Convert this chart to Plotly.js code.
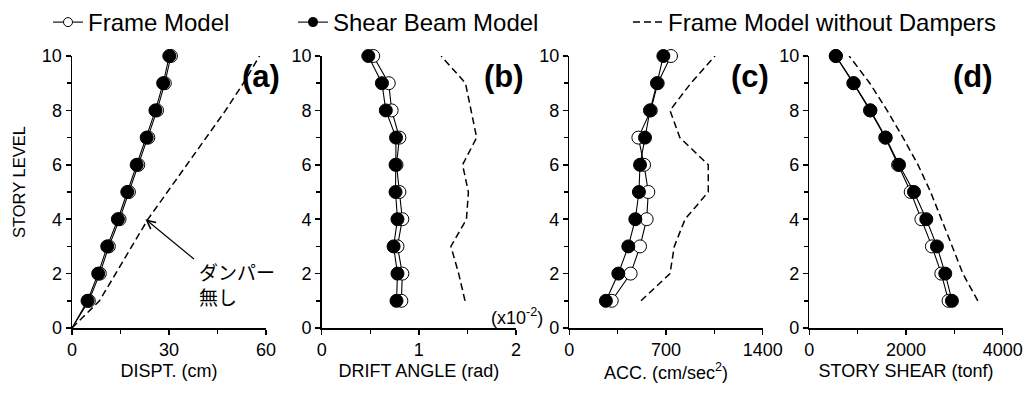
<!DOCTYPE html>
<html>
<head>
<meta charset="utf-8">
<script src="https://cdn.plot.ly/plotly-3.0.1.min.js"></script>
<style>html,body{margin:0;padding:0;background:#fff;}#chart{width:1027px;height:396px;}</style>
</head>
<body>
<div id="chart"></div>
<script>
// ---------- data ----------
const storyLevels = [1, 2, 3, 4, 5, 6, 7, 8, 9, 10];
const storyLevelsWithBase = [0, 1, 2, 3, 4, 5, 6, 7, 8, 9, 10];

// (a) displacement (cm), includes base level 0
const disptFrame = [0, 5.2, 8.6, 11.4, 14.7, 17.6, 20.5, 23.6, 26.3, 28.7, 30.6];
const disptShear = [0, 4.8, 8.1, 10.9, 14.2, 17.1, 20.0, 23.1, 25.8, 28.2, 30.1];
const disptNoDamper = [0, 8.5, 13.5, 18.5, 23.5, 29.5, 35.5, 41.5, 47.5, 53, 58];

// (b) drift angle (x10^-2 rad)
const driftFrame = [0.82, 0.83, 0.78, 0.83, 0.80, 0.77, 0.80, 0.72, 0.69, 0.53];
const driftShear = [0.77, 0.78, 0.74, 0.78, 0.76, 0.76, 0.765, 0.66, 0.62, 0.48];
const driftNoDamper = [1.475, 1.41, 1.33, 1.49, 1.51, 1.45, 1.595, 1.54, 1.48, 1.23];

// (c) acceleration (cm/sec^2)
const accFrame = [307, 444, 512, 560, 572, 541, 500, 590, 640, 736];
const accShear = [265, 355, 427, 478, 504, 512, 548, 584, 635, 681];
const accNoDamper = [519, 729, 760, 838, 1006, 1006, 800, 729, 880, 1055];

// (d) story shear (tonf)
const shearFrame = [2880, 2730, 2536, 2318, 2097, 1836, 1570, 1255, 910, 545];
const shearShear = [2950, 2812, 2640, 2420, 2165, 1856, 1581, 1265, 920, 551];
const shearNoDamper = [3485, 3176, 2956, 2729, 2509, 2248, 1938, 1608, 1251, 825];

const seriesNames = ['Frame Model', 'Shear Beam Model', 'Frame Model without Dampers'];
const panelLabels = ['(a)', '(b)', '(c)', '(d)'];
const xTitles = ['DISPT. (cm)', 'DRIFT ANGLE (rad)', 'ACC. (cm/sec<sup>2</sup>)', 'STORY SHEAR (tonf)'];
const xRanges = [[0, 60], [0, 2], [0, 1400], [0, 4000]];
const xMajor = [30, 1, 700, 2000];
const xMinor = [15, 0.5, 350, 1000];
const yAxisTitle = 'STORY LEVEL';
const noteText = 'ダンパー<br>無し';
const scaleNote = '(x10<sup>-2</sup>)';

// ---------- styling ----------
const FONT = '"Liberation Sans", Arial, sans-serif';
const W = 1027, H = 396;
const xDomainsPx = [[72, 266], [321.7, 516], [569.3, 762.7], [809.3, 1002.7]];
const yDomainPx = [56, 328];
const TICK_SIZE = 18, TITLE_SIZE = 18, LEGEND_SIZE = 24;

const panels = [
  {xs: [disptFrame, disptShear, disptNoDamper], ys: [storyLevelsWithBase, storyLevelsWithBase, storyLevelsWithBase]},
  {xs: [driftFrame, driftShear, driftNoDamper], ys: [storyLevels, storyLevels, storyLevels]},
  {xs: [accFrame, accShear, accNoDamper], ys: [storyLevels, storyLevels, storyLevels]},
  {xs: [shearFrame, shearShear, shearNoDamper], ys: [storyLevels, storyLevels, storyLevels]}
];

const traces = [];
panels.forEach((p, i) => {
  const xa = i === 0 ? 'x' : 'x' + (i + 1);
  const ya = i === 0 ? 'y' : 'y' + (i + 1);
  const sizes = p.ys[0].map(v => v === 0 ? 0 : 13);
  traces.push({x: p.xs[2], y: p.ys[2], xaxis: xa, yaxis: ya, mode: 'lines', showlegend: false,
    line: {color: 'black', width: 1.5, dash: '7px,4px'}, cliponaxis: false, hoverinfo: 'skip'});
  traces.push({x: p.xs[0], y: p.ys[0], xaxis: xa, yaxis: ya, mode: 'lines+markers', showlegend: false,
    line: {color: 'black', width: 1.1},
    marker: {symbol: 'circle', size: sizes, opacity: 1, color: 'white', line: {color: 'black', width: 1}},
    cliponaxis: false});
  traces.push({x: p.xs[1], y: p.ys[1], xaxis: xa, yaxis: ya, mode: 'lines+markers', showlegend: false,
    line: {color: 'black', width: 1.1},
    marker: {symbol: 'circle', size: sizes, opacity: 1, color: 'black', line: {color: 'black', width: 1}},
    cliponaxis: false});
});

// legend entries
traces.push({x: [null], y: [null], name: seriesNames[0], mode: 'lines+markers', legend: 'legend',
  line: {color: 'black', width: 1.1}, marker: {size: 9, color: 'white', line: {color: 'black', width: 1}}});
traces.push({x: [null], y: [null], name: seriesNames[1], mode: 'lines+markers', legend: 'legend2',
  line: {color: 'black', width: 1.1}, marker: {size: 10, color: 'black'}});
traces.push({x: [null], y: [null], name: seriesNames[2], mode: 'lines', legend: 'legend3',
  line: {color: 'black', width: 1.5, dash: '7px,4px'}});

const layout = {
  width: W, height: H,
  margin: {l: 0, r: 0, t: 0, b: 0, autoexpand: false},
  paper_bgcolor: 'white', plot_bgcolor: 'white',
  showlegend: true,
  font: {family: FONT, size: TICK_SIZE, color: 'black'},
  annotations: []
};
const legendBase = {y: 1.0, yanchor: 'top', xanchor: 'left', orientation: 'h',
  font: {family: FONT, size: LEGEND_SIZE, color: 'black'}, bgcolor: 'rgba(0,0,0,0)', borderwidth: 0};
layout.legend = Object.assign({}, legendBase, {x: 48 / W});
layout.legend2 = Object.assign({}, legendBase, {x: 293 / W});
layout.legend3 = Object.assign({}, legendBase, {x: 628 / W});

const yDom = [1 - yDomainPx[1] / H, 1 - yDomainPx[0] / H];
xDomainsPx.forEach((d, i) => {
  const xk = i === 0 ? 'xaxis' : 'xaxis' + (i + 1);
  const yk = i === 0 ? 'yaxis' : 'yaxis' + (i + 1);
  const xa = i === 0 ? 'x' : 'x' + (i + 1);
  const ya = i === 0 ? 'y' : 'y' + (i + 1);
  layout[xk] = {
    domain: [d[0] / W, d[1] / W], anchor: ya, range: xRanges[i],
    tickmode: 'linear', tick0: 0, dtick: xMajor[i],
    showline: true, linecolor: 'black', linewidth: 1.5, mirror: false,
    ticks: 'outside', ticklen: 5, tickwidth: 1.5, tickcolor: 'black',
    showgrid: false, zeroline: false, fixedrange: true,
    tickfont: {family: FONT, size: TICK_SIZE, color: 'black'},
    minor: {dtick: xMinor[i], tick0: 0, ticks: 'outside', ticklen: 4, tickwidth: 1.5, tickcolor: 'black', showgrid: false},
    title: {text: xTitles[i], font: {family: FONT, size: TITLE_SIZE, color: 'black'}, standoff: 5}
  };
  layout[yk] = {
    domain: yDom, anchor: xa, range: [0, 10],
    tickmode: 'linear', tick0: 0, dtick: 2,
    showline: true, linecolor: 'black', linewidth: 1.5, mirror: false,
    ticks: 'outside', ticklen: 5, tickwidth: 1.5, tickcolor: 'black',
    showgrid: false, zeroline: false, fixedrange: true,
    tickfont: {family: FONT, size: TICK_SIZE, color: 'black'},
    minor: {dtick: 1, tick0: 0, ticks: 'outside', ticklen: 4, tickwidth: 1.5, tickcolor: 'black', showgrid: false}
  };
});

// panel labels
const labelPos = [[261.4, 76], [504, 76], [750, 76], [973, 76]];
labelPos.forEach((p, i) => {
  const d = xDomainsPx[i];
  const xa = i === 0 ? 'x' : 'x' + (i + 1);
  const ya = i === 0 ? 'y' : 'y' + (i + 1);
  layout.annotations.push({
    text: '<b>' + panelLabels[i] + '</b>', xref: xa + ' domain', yref: ya + ' domain',
    x: (p[0] - d[0]) / (d[1] - d[0]), y: (yDomainPx[1] - p[1]) / (yDomainPx[1] - yDomainPx[0]),
    xanchor: 'center', yanchor: 'middle', showarrow: false,
    font: {family: FONT, size: 31, color: 'black'}
  });
});

// y-axis title
layout.annotations.push({text: yAxisTitle, xref: 'paper', yref: 'paper', x: 19 / W, y: 1 - 182 / H,
  xanchor: 'center', yanchor: 'middle', textangle: -90, showarrow: false,
  font: {family: FONT, size: 16.5, color: 'black'}});

// arrow pointing at the no-damper curve in (a)
layout.annotations.push({text: ' ', xref: 'x', yref: 'y', x: disptNoDamper[4] - 0.8, y: storyLevelsWithBase[4],
  showarrow: true, ax: 50, ay: 41, arrowhead: 5, arrowsize: 1.4, arrowwidth: 1.2, arrowcolor: 'black',
  font: {size: 1}});
layout.annotations.push({text: noteText, xref: 'x', yref: 'y', x: 38.6, y: 2.65,
  xanchor: 'left', yanchor: 'top', align: 'left', showarrow: false,
  font: {family: '"Noto Sans CJK JP", sans-serif', size: 19, color: 'black'}});

// scale note for (b)
layout.annotations.push({text: scaleNote, xref: 'x2 domain', yref: 'y2 domain', x: 1.007, y: 0.044,
  xanchor: 'center', yanchor: 'middle', showarrow: false,
  font: {family: FONT, size: 18, color: 'black'}});

Plotly.newPlot('chart', traces, layout, {displayModeBar: false, staticPlot: true});
</script>
</body>
</html>
